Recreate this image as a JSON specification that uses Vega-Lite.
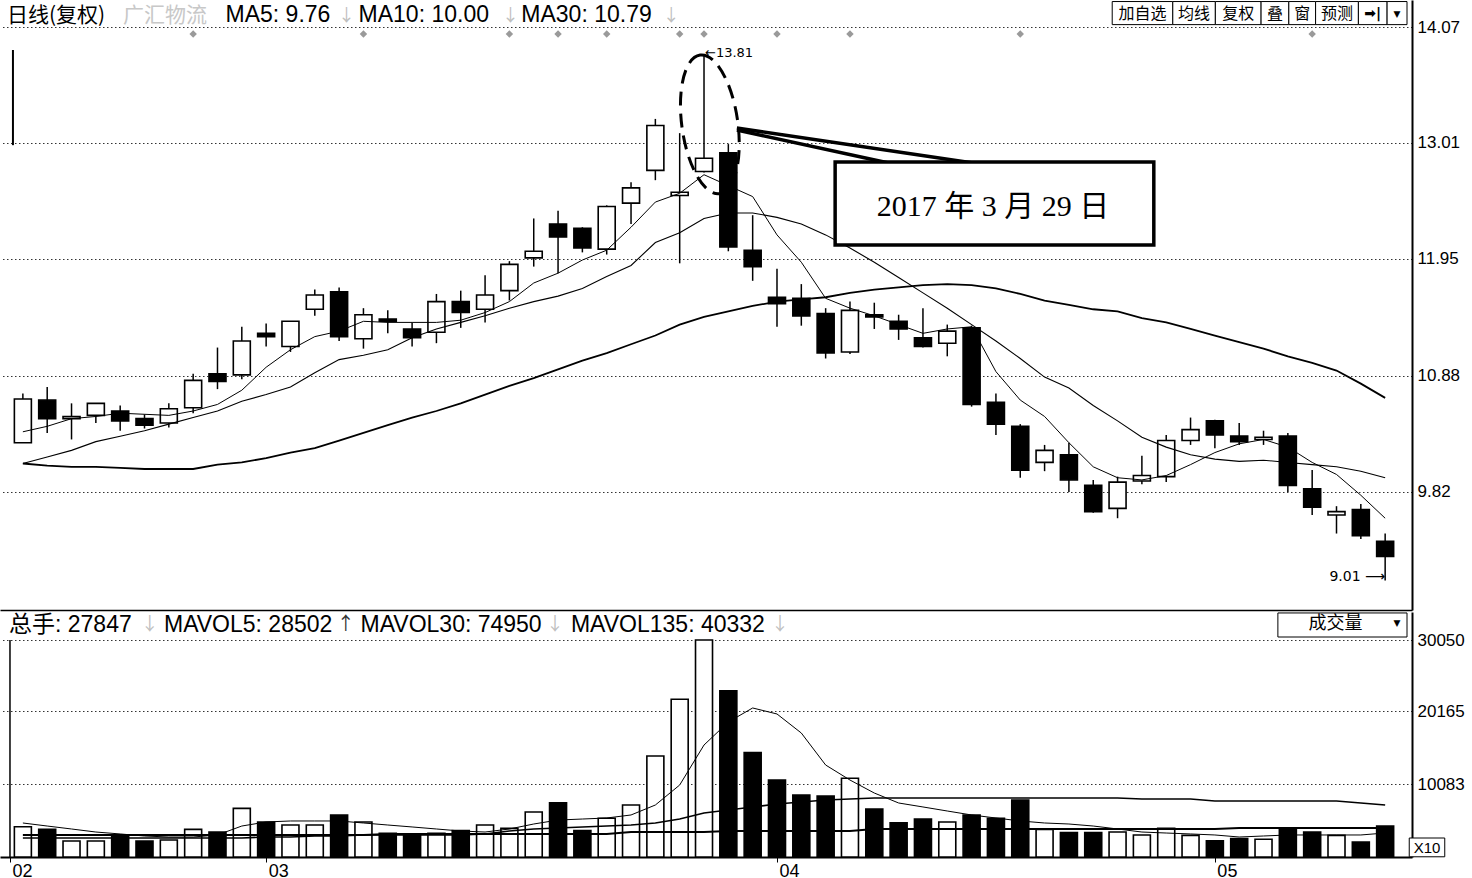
{
 "$schema": "https://vega.github.io/schema/vega-lite/v6.json",
 "background": "white",
 "padding": 0,
 "bounds": "flush",
 "spacing": 2,
 "config": {"view": {"stroke": null}, "font": "Liberation Sans", "axis": {"labelColor": "#000", "labelFont": "Liberation Sans"}},
 "resolve": {"scale": {"x": "independent", "y": "independent"}},
 "datasets": {"k": [
  {"i":1,"o":10.27,"h":10.72,"l":10.27,"c":10.67,"v":4200,"m5":10.37,"m10":10.08,"m30":10.08,"v5":4710,"v30":2630,"v135":3050,"f":0},
  {"i":2,"o":10.66,"h":10.78,"l":10.36,"c":10.49,"v":3830,"m5":10.42,"m10":10.14,"m30":10.06,"v5":4290,"v30":2630,"v135":3050,"f":0},
  {"i":3,"o":10.49,"h":10.63,"l":10.30,"c":10.51,"v":2216,"m5":10.49,"m10":10.20,"m30":10.05,"v5":3880,"v30":2630,"v135":3050,"f":0},
  {"i":4,"o":10.52,"h":10.63,"l":10.45,"c":10.63,"v":2216,"m5":10.51,"m10":10.28,"m30":10.05,"v5":3460,"v30":2630,"v135":3050,"f":0},
  {"i":5,"o":10.56,"h":10.61,"l":10.38,"c":10.47,"v":3000,"m5":10.54,"m10":10.33,"m30":10.04,"v5":3190,"v30":2630,"v135":3050,"f":0},
  {"i":6,"o":10.49,"h":10.53,"l":10.40,"c":10.43,"v":2216,"m5":10.53,"m10":10.38,"m30":10.03,"v5":2910,"v30":2630,"v135":3050,"f":0},
  {"i":7,"o":10.45,"h":10.63,"l":10.41,"c":10.58,"v":2350,"m5":10.52,"m10":10.44,"m30":10.03,"v5":2770,"v30":2630,"v135":3050,"f":0},
  {"i":8,"o":10.59,"h":10.90,"l":10.54,"c":10.84,"v":3830,"m5":10.56,"m10":10.50,"m30":10.03,"v5":2770,"v30":2630,"v135":3050,"f":1},
  {"i":9,"o":10.90,"h":11.14,"l":10.76,"c":10.83,"v":3460,"m5":10.62,"m10":10.56,"m30":10.07,"v5":3050,"v30":2630,"v135":3050,"f":0},
  {"i":10,"o":10.89,"h":11.33,"l":10.85,"c":11.20,"v":6740,"m5":10.75,"m10":10.65,"m30":10.09,"v5":4290,"v30":2630,"v135":3050,"f":0},
  {"i":11,"o":11.27,"h":11.36,"l":11.15,"c":11.24,"v":4850,"m5":10.96,"m10":10.71,"m30":10.13,"v5":4850,"v30":2770,"v135":3050,"f":0},
  {"i":12,"o":11.15,"h":11.38,"l":11.10,"c":11.38,"v":4430,"m5":11.12,"m10":10.78,"m30":10.18,"v5":4990,"v30":2770,"v135":3050,"f":0},
  {"i":13,"o":11.49,"h":11.67,"l":11.43,"c":11.62,"v":4430,"m5":11.24,"m10":10.91,"m30":10.22,"v5":4990,"v30":2910,"v135":3050,"f":0},
  {"i":14,"o":11.65,"h":11.69,"l":11.20,"c":11.24,"v":5820,"m5":11.29,"m10":11.03,"m30":10.29,"v5":4990,"v30":2910,"v135":3050,"f":0},
  {"i":15,"o":11.22,"h":11.50,"l":11.13,"c":11.44,"v":4850,"m5":11.38,"m10":11.07,"m30":10.36,"v5":4710,"v30":3050,"v135":3050,"f":1},
  {"i":16,"o":11.40,"h":11.48,"l":11.27,"c":11.38,"v":3270,"m5":11.37,"m10":11.12,"m30":10.43,"v5":4430,"v30":3050,"v135":3190,"f":0},
  {"i":17,"o":11.31,"h":11.37,"l":11.15,"c":11.23,"v":3200,"m5":11.37,"m10":11.23,"m30":10.50,"v5":4160,"v30":3050,"v135":3190,"f":0},
  {"i":18,"o":11.28,"h":11.63,"l":11.18,"c":11.56,"v":3270,"m5":11.37,"m10":11.31,"m30":10.56,"v5":3880,"v30":3050,"v135":3190,"f":0},
  {"i":19,"o":11.56,"h":11.66,"l":11.32,"c":11.46,"v":3650,"m5":11.39,"m10":11.37,"m30":10.63,"v5":3600,"v30":3050,"v135":3190,"f":0},
  {"i":20,"o":11.49,"h":11.80,"l":11.37,"c":11.62,"v":4430,"m5":11.46,"m10":11.43,"m30":10.71,"v5":3460,"v30":3190,"v135":3190,"f":0},
  {"i":21,"o":11.66,"h":11.93,"l":11.57,"c":11.90,"v":3970,"m5":11.56,"m10":11.50,"m30":10.79,"v5":3880,"v30":3600,"v135":3190,"f":1},
  {"i":22,"o":11.96,"h":12.32,"l":11.88,"c":12.02,"v":6230,"m5":11.73,"m10":11.56,"m30":10.86,"v5":4570,"v30":3880,"v135":3190,"f":0},
  {"i":23,"o":12.27,"h":12.39,"l":11.82,"c":12.15,"v":7520,"m5":11.82,"m10":11.61,"m30":10.94,"v5":5120,"v30":4020,"v135":3190,"f":1},
  {"i":24,"o":12.23,"h":12.24,"l":12.01,"c":12.05,"v":3650,"m5":11.94,"m10":11.68,"m30":11.02,"v5":5260,"v30":4160,"v135":3190,"f":0},
  {"i":25,"o":12.04,"h":12.44,"l":11.99,"c":12.43,"v":5360,"m5":12.03,"m10":11.79,"m30":11.09,"v5":5400,"v30":4290,"v135":3190,"f":1},
  {"i":26,"o":12.46,"h":12.65,"l":12.27,"c":12.60,"v":7200,"m5":12.24,"m10":11.89,"m30":11.17,"v5":5820,"v30":4430,"v135":3460,"f":0},
  {"i":27,"o":12.76,"h":13.23,"l":12.67,"c":13.17,"v":13990,"m5":12.47,"m10":12.10,"m30":11.25,"v5":7200,"v30":4710,"v135":3460,"f":0},
  {"i":28,"o":12.53,"h":13.10,"l":11.91,"c":12.56,"v":21840,"m5":12.55,"m10":12.19,"m30":11.35,"v5":9970,"v30":5260,"v135":3460,"f":1},
  {"i":29,"o":12.75,"h":13.81,"l":12.74,"c":12.87,"v":30050,"m5":12.72,"m10":12.32,"m30":11.42,"v5":15510,"v30":6090,"v135":3460,"f":1},
  {"i":30,"o":12.92,"h":13.00,"l":12.02,"c":12.06,"v":23030,"m5":12.62,"m10":12.37,"m30":11.47,"v5":18700,"v30":6510,"v135":3600,"f":0},
  {"i":31,"o":12.03,"h":12.35,"l":11.75,"c":11.88,"v":14450,"m5":12.52,"m10":12.37,"m30":11.52,"v5":20640,"v30":6930,"v135":3600,"f":0},
  {"i":32,"o":11.60,"h":11.86,"l":11.33,"c":11.54,"v":10660,"m5":12.17,"m10":12.33,"m30":11.56,"v5":19810,"v30":7340,"v135":3600,"f":1},
  {"i":33,"o":11.59,"h":11.72,"l":11.34,"c":11.43,"v":8590,"m5":11.92,"m10":12.27,"m30":11.58,"v5":17170,"v30":7620,"v135":3600,"f":0},
  {"i":34,"o":11.45,"h":11.50,"l":11.04,"c":11.09,"v":8450,"m5":11.59,"m10":12.17,"m30":11.60,"v5":12740,"v30":7890,"v135":3600,"f":0},
  {"i":35,"o":11.10,"h":11.56,"l":11.08,"c":11.48,"v":10900,"m5":11.50,"m10":12.05,"m30":11.64,"v5":10660,"v30":8030,"v135":3600,"f":1},
  {"i":36,"o":11.44,"h":11.55,"l":11.31,"c":11.42,"v":6650,"m5":11.43,"m10":11.92,"m30":11.67,"v5":8860,"v30":8170,"v135":3880,"f":0},
  {"i":37,"o":11.38,"h":11.44,"l":11.21,"c":11.31,"v":4750,"m5":11.35,"m10":11.78,"m30":11.69,"v5":7480,"v30":8170,"v135":3880,"f":0},
  {"i":38,"o":11.23,"h":11.50,"l":11.14,"c":11.15,"v":5260,"m5":11.27,"m10":11.64,"m30":11.71,"v5":6930,"v30":8170,"v135":3880,"f":0},
  {"i":39,"o":11.18,"h":11.35,"l":11.06,"c":11.29,"v":4850,"m5":11.31,"m10":11.50,"m30":11.72,"v5":6370,"v30":8170,"v135":3880,"f":0},
  {"i":40,"o":11.32,"h":11.34,"l":10.60,"c":10.62,"v":5820,"m5":11.33,"m10":11.35,"m30":11.71,"v5":5820,"v30":8170,"v135":3880,"f":0},
  {"i":41,"o":10.64,"h":10.72,"l":10.34,"c":10.44,"v":5360,"m5":10.92,"m10":11.20,"m30":11.68,"v5":5400,"v30":8170,"v135":3880,"f":0},
  {"i":42,"o":10.42,"h":10.44,"l":9.95,"c":10.02,"v":7900,"m5":10.66,"m10":11.04,"m30":11.63,"v5":4990,"v30":8170,"v135":3880,"f":1},
  {"i":43,"o":10.09,"h":10.25,"l":10.01,"c":10.20,"v":3830,"m5":10.51,"m10":10.87,"m30":11.57,"v5":4710,"v30":8170,"v135":3880,"f":0},
  {"i":44,"o":10.16,"h":10.27,"l":9.82,"c":9.93,"v":3370,"m5":10.27,"m10":10.77,"m30":11.53,"v5":4570,"v30":8170,"v135":3880,"f":0},
  {"i":45,"o":9.88,"h":9.93,"l":9.63,"c":9.64,"v":3370,"m5":10.05,"m10":10.61,"m30":11.49,"v5":4290,"v30":8170,"v135":3880,"f":0},
  {"i":46,"o":9.67,"h":9.96,"l":9.58,"c":9.91,"v":3460,"m5":9.95,"m10":10.47,"m30":11.47,"v5":3880,"v30":8170,"v135":3880,"f":0},
  {"i":47,"o":9.92,"h":10.15,"l":9.89,"c":9.97,"v":3050,"m5":9.93,"m10":10.32,"m30":11.41,"v5":3460,"v30":8030,"v135":3880,"f":0},
  {"i":48,"o":9.96,"h":10.34,"l":9.91,"c":10.29,"v":3970,"m5":9.97,"m10":10.23,"m30":11.37,"v5":3320,"v30":8030,"v135":3880,"f":0},
  {"i":49,"o":10.29,"h":10.50,"l":10.25,"c":10.39,"v":3000,"m5":10.07,"m10":10.16,"m30":11.31,"v5":3190,"v30":8030,"v135":3880,"f":0},
  {"i":50,"o":10.47,"h":10.48,"l":10.22,"c":10.34,"v":2260,"m5":10.18,"m10":10.12,"m30":11.25,"v5":3050,"v30":7760,"v135":3880,"f":0},
  {"i":51,"o":10.33,"h":10.45,"l":10.25,"c":10.28,"v":2540,"m5":10.26,"m10":10.10,"m30":11.19,"v5":2770,"v30":7760,"v135":4020,"f":0},
  {"i":52,"o":10.30,"h":10.38,"l":10.25,"c":10.32,"v":2450,"m5":10.30,"m10":10.11,"m30":11.13,"v5":2910,"v30":7760,"v135":4020,"f":0},
  {"i":53,"o":10.33,"h":10.36,"l":9.82,"c":9.88,"v":3920,"m5":10.23,"m10":10.09,"m30":11.06,"v5":3050,"v30":7760,"v135":4020,"f":0},
  {"i":54,"o":9.85,"h":10.02,"l":9.61,"c":9.68,"v":3460,"m5":10.09,"m10":10.07,"m30":11.00,"v5":3050,"v30":7760,"v135":4020,"f":1},
  {"i":55,"o":9.61,"h":9.69,"l":9.44,"c":9.64,"v":3000,"m5":9.98,"m10":10.05,"m30":10.93,"v5":3050,"v30":7760,"v135":4020,"f":0},
  {"i":56,"o":9.66,"h":9.71,"l":9.39,"c":9.42,"v":2080,"m5":9.79,"m10":10.01,"m30":10.81,"v5":3050,"v30":7480,"v135":4020,"f":0},
  {"i":57,"o":9.37,"h":9.44,"l":9.01,"c":9.23,"v":4290,"m5":9.58,"m10":9.95,"m30":10.68,"v5":3320,"v30":7200,"v135":4020,"f":0}
 ]},
 "vconcat": [
  {
   "width": 1412, "height": 610,
   "data": {"name": "k"},
   "layer": [
    {"mark": {"type": "rule", "color": "#000", "strokeWidth": 1.5},
     "encoding": {
      "x": {"field": "i", "type": "quantitative", "scale": {"domain": [0.2653, 57.898], "nice": false, "zero": false},
            "axis": {"orient": "bottom", "labels": false, "ticks": false, "grid": false, "domain": true, "domainColor": "#000", "domainWidth": 1.5, "title": null}},
      "y": {"field": "l", "type": "quantitative", "scale": {"domain": [8.741, 14.317], "nice": false, "zero": false},
            "axis": {"orient": "right", "values": [9.82, 10.88, 11.95, 13.01, 14.07], "format": ".2f", "grid": true, "gridColor": "#333", "gridDash": [1.5, 2.5], "gridWidth": 1, "ticks": false, "domain": true, "domainColor": "#000", "domainWidth": 2, "labelFontSize": 17, "labelPadding": 5, "title": null}},
      "y2": {"field": "h"}}},
    {"mark": {"type": "bar", "orient": "vertical", "width": 17, "stroke": "#000", "strokeWidth": 1.6},
     "encoding": {
      "x": {"field": "i", "type": "quantitative"},
      "y": {"field": "o", "type": "quantitative"},
      "y2": {"field": "c"},
      "fill": {"condition": {"test": "datum.c >= datum.o", "value": "#ffffff"}, "value": "#000000"}}},
    {"mark": {"type": "line", "color": "#000", "strokeWidth": 1},
     "encoding": {"x": {"field": "i", "type": "quantitative"}, "y": {"field": "m5", "type": "quantitative"}}},
    {"mark": {"type": "line", "color": "#000", "strokeWidth": 1.1},
     "encoding": {"x": {"field": "i", "type": "quantitative"}, "y": {"field": "m10", "type": "quantitative"}}},
    {"mark": {"type": "line", "color": "#000", "strokeWidth": 1.8},
     "encoding": {"x": {"field": "i", "type": "quantitative"}, "y": {"field": "m30", "type": "quantitative"}}},
    {"transform": [{"filter": "datum.f == 1"}],
     "mark": {"type": "point", "shape": "diamond", "filled": true, "color": "#9a9a9a", "size": 55, "opacity": 1},
     "encoding": {"x": {"field": "i", "type": "quantitative"}, "y": {"datum": 14.006, "type": "quantitative"}}},
    {"data": {"values": [{}]}, "mark": {"type": "rule", "color": "#000", "strokeWidth": 2},
     "encoding": {"x": {"datum": 0.592, "type": "quantitative"}, "y": {"datum": 13.86, "type": "quantitative"}, "y2": {"datum": 12.99}}},
    {"data": {"values": [{}]},
     "mark": {"type": "point", "shape": "M0,-1A0.4,1 0 1,1 0,1A0.4,1 0 1,1 0,-1Z", "size": 19600, "filled": false, "stroke": "#000", "strokeWidth": 3, "strokeDash": [14, 8], "angle": 352, "opacity": 1},
     "encoding": {"x": {"datum": 29.24, "type": "quantitative"}, "y": {"datum": 13.18, "type": "quantitative"}}},
    {"data": {"values": [{}]}, "mark": {"type": "rule", "color": "#000", "strokeWidth": 3.5},
     "encoding": {"x": {"datum": 30.35, "type": "quantitative"}, "x2": {"datum": 36.59}, "y": {"datum": 13.128, "type": "quantitative"}, "y2": {"datum": 12.827}}},
    {"data": {"values": [{}]}, "mark": {"type": "rule", "color": "#000", "strokeWidth": 3.5},
     "encoding": {"x": {"datum": 30.35, "type": "quantitative"}, "x2": {"datum": 40.06}, "y": {"datum": 13.146, "type": "quantitative"}, "y2": {"datum": 12.827}}},
    {"data": {"values": [{}]}, "mark": {"type": "rect", "fill": "#fff", "stroke": "#000", "strokeWidth": 3.5},
     "encoding": {"x": {"datum": 34.39, "type": "quantitative"}, "x2": {"datum": 47.49}, "y": {"datum": 12.836, "type": "quantitative"}, "y2": {"datum": 12.077}}},
    {"data": {"values": [{}]}, "mark": {"type": "text", "text": "2017 年 3 月 29 日", "font": "Liberation Serif, Noto Sans CJK SC", "fontSize": 30, "align": "center", "baseline": "middle", "color": "#000"},
     "encoding": {"x": {"datum": 40.88, "type": "quantitative"}, "y": {"datum": 12.425, "type": "quantitative"}}},
    {"data": {"values": [{}]}, "mark": {"type": "text", "text": "←13.81", "font": "DejaVu Sans", "fontSize": 13, "align": "left", "baseline": "middle", "color": "#000"},
     "encoding": {"x": {"datum": 29.04, "type": "quantitative"}, "y": {"datum": 13.832, "type": "quantitative"}}},
    {"data": {"values": [{}]}, "mark": {"type": "text", "text": "9.01 ⟶", "font": "DejaVu Sans", "fontSize": 14, "align": "right", "baseline": "middle", "color": "#000"},
     "encoding": {"x": {"datum": 57.0, "type": "quantitative"}, "y": {"datum": 9.045, "type": "quantitative"}}},
    {"data": {"values": [{}]}, "mark": {"type": "text", "text": "日线(复权)", "font": "Noto Sans CJK SC", "fontSize": 21, "align": "left", "baseline": "middle", "color": "#000"},
     "encoding": {"x": {"datum": 0.347, "type": "quantitative"}, "y": {"datum": 14.17, "type": "quantitative"}}},
    {"data": {"values": [{}]}, "mark": {"type": "text", "text": "广汇物流", "font": "Noto Sans CJK SC", "fontSize": 21, "align": "left", "baseline": "middle", "color": "#c8c8c8"},
     "encoding": {"x": {"datum": 5.12, "type": "quantitative"}, "y": {"datum": 14.17, "type": "quantitative"}}},
    {"data": {"values": [{}]}, "mark": {"type": "text", "text": "MA5: 9.76", "fontSize": 23, "align": "left", "baseline": "middle", "color": "#000"},
     "encoding": {"x": {"datum": 9.33, "type": "quantitative"}, "y": {"datum": 14.18, "type": "quantitative"}}},
    {"data": {"values": [{}]}, "mark": {"type": "text", "text": "↓", "font": "Noto Sans CJK SC", "fontSize": 17, "align": "left", "baseline": "middle", "color": "#c0c0c0"},
     "encoding": {"x": {"datum": 13.95, "type": "quantitative"}, "y": {"datum": 14.17, "type": "quantitative"}}},
    {"data": {"values": [{}]}, "mark": {"type": "text", "text": "MA10: 10.00", "fontSize": 23, "align": "left", "baseline": "middle", "color": "#000"},
     "encoding": {"x": {"datum": 14.8, "type": "quantitative"}, "y": {"datum": 14.18, "type": "quantitative"}}},
    {"data": {"values": [{}]}, "mark": {"type": "text", "text": "↓", "font": "Noto Sans CJK SC", "fontSize": 17, "align": "left", "baseline": "middle", "color": "#c0c0c0"},
     "encoding": {"x": {"datum": 20.7, "type": "quantitative"}, "y": {"datum": 14.17, "type": "quantitative"}}},
    {"data": {"values": [{}]}, "mark": {"type": "text", "text": "MA30: 10.79", "fontSize": 23, "align": "left", "baseline": "middle", "color": "#000"},
     "encoding": {"x": {"datum": 21.49, "type": "quantitative"}, "y": {"datum": 14.18, "type": "quantitative"}}},
    {"data": {"values": [{}]}, "mark": {"type": "text", "text": "↓", "font": "Noto Sans CJK SC", "fontSize": 17, "align": "left", "baseline": "middle", "color": "#c0c0c0"},
     "encoding": {"x": {"datum": 27.3, "type": "quantitative"}, "y": {"datum": 14.17, "type": "quantitative"}}},
    {"data": {"values": [{}]}, "mark": {"type": "rect", "fill": "#fff", "stroke": "#000", "strokeWidth": 1},
     "encoding": {"x": {"datum": 45.78, "type": "quantitative"}, "x2": {"datum": 48.27}, "y": {"datum": 14.303, "type": "quantitative"}, "y2": {"datum": 14.092}}},
    {"data": {"values": [{}]}, "mark": {"type": "rect", "fill": "#fff", "stroke": "#000", "strokeWidth": 1},
     "encoding": {"x": {"datum": 48.27, "type": "quantitative"}, "x2": {"datum": 50.02}, "y": {"datum": 14.303, "type": "quantitative"}, "y2": {"datum": 14.092}}},
    {"data": {"values": [{}]}, "mark": {"type": "rect", "fill": "#fff", "stroke": "#000", "strokeWidth": 1},
     "encoding": {"x": {"datum": 50.02, "type": "quantitative"}, "x2": {"datum": 51.9}, "y": {"datum": 14.303, "type": "quantitative"}, "y2": {"datum": 14.092}}},
    {"data": {"values": [{}]}, "mark": {"type": "rect", "fill": "#fff", "stroke": "#000", "strokeWidth": 1},
     "encoding": {"x": {"datum": 51.9, "type": "quantitative"}, "x2": {"datum": 53.04}, "y": {"datum": 14.303, "type": "quantitative"}, "y2": {"datum": 14.092}}},
    {"data": {"values": [{}]}, "mark": {"type": "rect", "fill": "#fff", "stroke": "#000", "strokeWidth": 1},
     "encoding": {"x": {"datum": 53.04, "type": "quantitative"}, "x2": {"datum": 54.14}, "y": {"datum": 14.303, "type": "quantitative"}, "y2": {"datum": 14.092}}},
    {"data": {"values": [{}]}, "mark": {"type": "rect", "fill": "#fff", "stroke": "#000", "strokeWidth": 1},
     "encoding": {"x": {"datum": 54.14, "type": "quantitative"}, "x2": {"datum": 55.9}, "y": {"datum": 14.303, "type": "quantitative"}, "y2": {"datum": 14.092}}},
    {"data": {"values": [{}]}, "mark": {"type": "rect", "fill": "#fff", "stroke": "#000", "strokeWidth": 1},
     "encoding": {"x": {"datum": 55.9, "type": "quantitative"}, "x2": {"datum": 57.08}, "y": {"datum": 14.303, "type": "quantitative"}, "y2": {"datum": 14.092}}},
    {"data": {"values": [{}]}, "mark": {"type": "rect", "fill": "#fff", "stroke": "#000", "strokeWidth": 1},
     "encoding": {"x": {"datum": 57.08, "type": "quantitative"}, "x2": {"datum": 57.898}, "y": {"datum": 14.303, "type": "quantitative"}, "y2": {"datum": 14.092}}},
    {"data": {"values": [{}]}, "mark": {"type": "text", "text": "加自选", "font": "Noto Sans CJK SC", "fontSize": 16, "align": "center", "baseline": "middle", "color": "#000"},
     "encoding": {"x": {"datum": 47.02, "type": "quantitative"}, "y": {"datum": 14.19, "type": "quantitative"}}},
    {"data": {"values": [{}]}, "mark": {"type": "text", "text": "均线", "font": "Noto Sans CJK SC", "fontSize": 16, "align": "center", "baseline": "middle", "color": "#000"},
     "encoding": {"x": {"datum": 49.14, "type": "quantitative"}, "y": {"datum": 14.19, "type": "quantitative"}}},
    {"data": {"values": [{}]}, "mark": {"type": "text", "text": "复权", "font": "Noto Sans CJK SC", "fontSize": 16, "align": "center", "baseline": "middle", "color": "#000"},
     "encoding": {"x": {"datum": 50.96, "type": "quantitative"}, "y": {"datum": 14.19, "type": "quantitative"}}},
    {"data": {"values": [{}]}, "mark": {"type": "text", "text": "叠", "font": "Noto Sans CJK SC", "fontSize": 16, "align": "center", "baseline": "middle", "color": "#000"},
     "encoding": {"x": {"datum": 52.47, "type": "quantitative"}, "y": {"datum": 14.19, "type": "quantitative"}}},
    {"data": {"values": [{}]}, "mark": {"type": "text", "text": "窗", "font": "Noto Sans CJK SC", "fontSize": 16, "align": "center", "baseline": "middle", "color": "#000"},
     "encoding": {"x": {"datum": 53.59, "type": "quantitative"}, "y": {"datum": 14.19, "type": "quantitative"}}},
    {"data": {"values": [{}]}, "mark": {"type": "text", "text": "预测", "font": "Noto Sans CJK SC", "fontSize": 16, "align": "center", "baseline": "middle", "color": "#000"},
     "encoding": {"x": {"datum": 55.02, "type": "quantitative"}, "y": {"datum": 14.19, "type": "quantitative"}}},
    {"data": {"values": [{}]}, "mark": {"type": "text", "text": "➡|", "font": "DejaVu Sans", "fontSize": 14, "fontWeight": "bold", "align": "center", "baseline": "middle", "color": "#000"},
     "encoding": {"x": {"datum": 56.49, "type": "quantitative"}, "y": {"datum": 14.19, "type": "quantitative"}}},
    {"data": {"values": [{}]}, "mark": {"type": "text", "text": "▼", "font": "DejaVu Sans", "fontSize": 9, "align": "center", "baseline": "middle", "color": "#000"},
     "encoding": {"x": {"datum": 57.49, "type": "quantitative"}, "y": {"datum": 14.19, "type": "quantitative"}}}
   ]
  },
  {
   "width": 1412, "height": 245,
   "data": {"name": "k"},
   "layer": [
    {"mark": {"type": "bar", "orient": "vertical", "width": 17, "stroke": "#000", "strokeWidth": 1.6},
     "encoding": {
      "x": {"field": "i", "type": "quantitative", "scale": {"domain": [0.2653, 57.898], "nice": false, "zero": false},
            "axis": {"orient": "bottom", "values": [0.47, 11, 32, 50], "labelExpr": "datum.value < 1 ? '02' : datum.value < 20 ? '03' : datum.value < 40 ? '04' : '05'", "labelAlign": "left", "labelFlush": false, "labelOverlap": false, "labelOffset": 2, "ticks": true, "tickSize": 5, "tickColor": "#000", "tickWidth": 1, "domain": true, "domainColor": "#000", "domainWidth": 2, "grid": false, "labelFontSize": 18, "labelPadding": 0, "labelBaseline": "top", "title": null}},
      "y": {"field": "v", "type": "quantitative", "scale": {"domain": [0, 33933], "nice": false, "zero": false},
            "axis": {"orient": "right", "values": [10083, 20165, 30050], "format": "d", "grid": true, "gridColor": "#333", "gridDash": [1.5, 2.5], "gridWidth": 1, "ticks": false, "domain": true, "domainColor": "#000", "domainWidth": 2, "labelFontSize": 17, "labelPadding": 5, "title": null}},
      "fill": {"condition": {"test": "datum.c >= datum.o", "value": "#ffffff"}, "value": "#000000"}}},
    {"mark": {"type": "line", "color": "#000", "strokeWidth": 1},
     "encoding": {"x": {"field": "i", "type": "quantitative"}, "y": {"field": "v5", "type": "quantitative"}}},
    {"mark": {"type": "line", "color": "#000", "strokeWidth": 1.6},
     "encoding": {"x": {"field": "i", "type": "quantitative"}, "y": {"field": "v30", "type": "quantitative"}}},
    {"mark": {"type": "line", "color": "#000", "strokeWidth": 2},
     "encoding": {"x": {"field": "i", "type": "quantitative"}, "y": {"field": "v135", "type": "quantitative"}}},
    {"data": {"values": [{}]}, "mark": {"type": "rule", "color": "#000", "strokeWidth": 1.5},
     "encoding": {"x": {"datum": 0.47, "type": "quantitative"}, "y": {"datum": 0, "type": "quantitative"}, "y2": {"datum": 30050}}},
    {"data": {"values": [{}]}, "mark": {"type": "text", "text": "总手: 27847", "font": "Liberation Sans, Noto Sans CJK SC", "fontSize": 23, "align": "left", "baseline": "middle", "color": "#000"},
     "encoding": {"x": {"datum": 0.43, "type": "quantitative"}, "y": {"datum": 32130, "type": "quantitative"}}},
    {"data": {"values": [{}]}, "mark": {"type": "text", "text": "↓", "font": "Noto Sans CJK SC", "fontSize": 18, "align": "left", "baseline": "middle", "color": "#c0c0c0"},
     "encoding": {"x": {"datum": 5.85, "type": "quantitative"}, "y": {"datum": 32130, "type": "quantitative"}}},
    {"data": {"values": [{}]}, "mark": {"type": "text", "text": "MAVOL5: 28502", "fontSize": 23, "align": "left", "baseline": "middle", "color": "#000"},
     "encoding": {"x": {"datum": 6.8, "type": "quantitative"}, "y": {"datum": 32130, "type": "quantitative"}}},
    {"data": {"values": [{}]}, "mark": {"type": "text", "text": "↑", "font": "Noto Sans CJK SC", "fontSize": 18, "align": "left", "baseline": "middle", "color": "#333"},
     "encoding": {"x": {"datum": 13.9, "type": "quantitative"}, "y": {"datum": 32130, "type": "quantitative"}}},
    {"data": {"values": [{}]}, "mark": {"type": "text", "text": "MAVOL30: 74950", "fontSize": 23, "align": "left", "baseline": "middle", "color": "#000"},
     "encoding": {"x": {"datum": 14.88, "type": "quantitative"}, "y": {"datum": 32130, "type": "quantitative"}}},
    {"data": {"values": [{}]}, "mark": {"type": "text", "text": "↓", "font": "Noto Sans CJK SC", "fontSize": 18, "align": "left", "baseline": "middle", "color": "#c0c0c0"},
     "encoding": {"x": {"datum": 22.5, "type": "quantitative"}, "y": {"datum": 32130, "type": "quantitative"}}},
    {"data": {"values": [{}]}, "mark": {"type": "text", "text": "MAVOL135: 40332", "fontSize": 23, "align": "left", "baseline": "middle", "color": "#000"},
     "encoding": {"x": {"datum": 23.53, "type": "quantitative"}, "y": {"datum": 32130, "type": "quantitative"}}},
    {"data": {"values": [{}]}, "mark": {"type": "text", "text": "↓", "font": "Noto Sans CJK SC", "fontSize": 18, "align": "left", "baseline": "middle", "color": "#c0c0c0"},
     "encoding": {"x": {"datum": 31.75, "type": "quantitative"}, "y": {"datum": 32130, "type": "quantitative"}}},
    {"data": {"values": [{}]}, "mark": {"type": "rect", "fill": "#fff", "stroke": "#000", "strokeWidth": 1},
     "encoding": {"x": {"datum": 52.59, "type": "quantitative"}, "x2": {"datum": 57.898}, "y": {"datum": 33800, "type": "quantitative"}, "y2": {"datum": 30470}}},
    {"data": {"values": [{}]}, "mark": {"type": "text", "text": "成交量", "font": "Noto Sans CJK SC", "fontSize": 18, "align": "center", "baseline": "middle", "color": "#000"},
     "encoding": {"x": {"datum": 54.96, "type": "quantitative"}, "y": {"datum": 32270, "type": "quantitative"}}},
    {"data": {"values": [{}]}, "mark": {"type": "text", "text": "▼", "font": "DejaVu Sans", "fontSize": 9, "align": "center", "baseline": "middle", "color": "#000"},
     "encoding": {"x": {"datum": 57.49, "type": "quantitative"}, "y": {"datum": 32400, "type": "quantitative"}}},
    {"data": {"values": [{}]}, "mark": {"type": "rect", "fill": "#fff", "stroke": "#000", "strokeWidth": 1},
     "encoding": {"x": {"datum": 57.99, "type": "quantitative"}, "x2": {"datum": 59.45}, "y": {"datum": 2630, "type": "quantitative"}, "y2": {"datum": 30}}},
    {"data": {"values": [{}]}, "mark": {"type": "text", "text": "X10", "fontSize": 15, "align": "center", "baseline": "middle", "color": "#000"},
     "encoding": {"x": {"datum": 58.72, "type": "quantitative"}, "y": {"datum": 1300, "type": "quantitative"}}}
   ]
  }
 ]
}
